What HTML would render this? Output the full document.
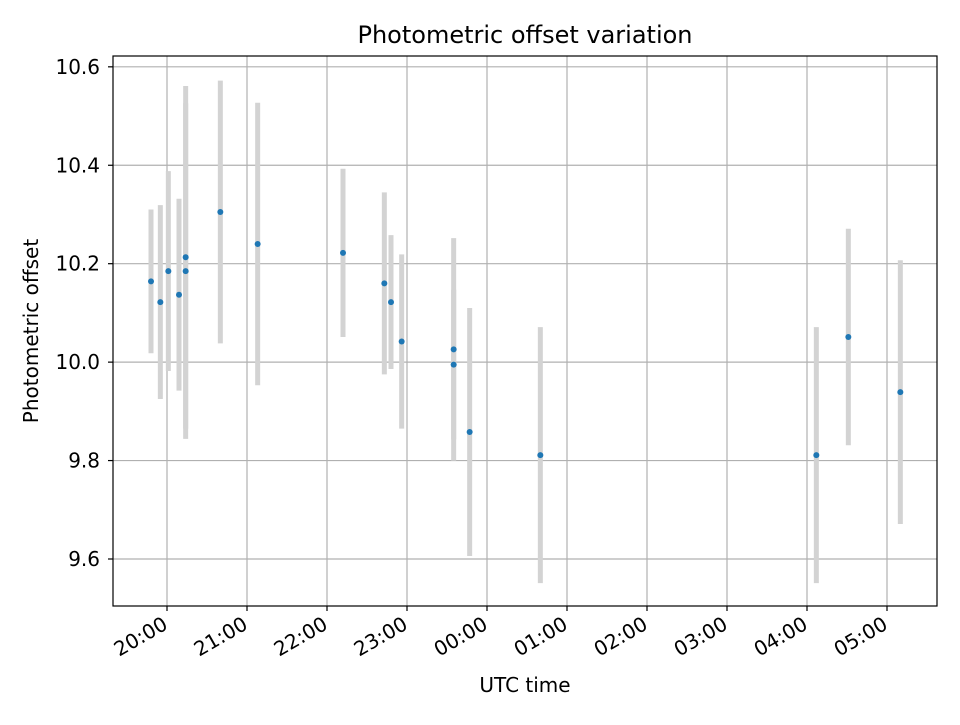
<!DOCTYPE html>
<html><head><meta charset="utf-8"><style>
body{margin:0;background:#fff;font-family:"Liberation Sans","DejaVu Sans",sans-serif}
svg text{font-family:"DejaVu Sans","Liberation Sans",sans-serif}
</style></head><body>
<svg id="chart" width="960" height="720" xmlns="http://www.w3.org/2000/svg">
<rect width="960" height="720" fill="#fff"/>
<g id="grid"></g><g id="marks"></g><g id="ticks"></g>
<rect x="113" y="56" width="824" height="550" fill="none" stroke="#000" stroke-width="1.2"/>
<text x="525" y="43" font-size="24" text-anchor="middle">Photometric offset variation</text>
<text x="525" y="692" font-size="20" text-anchor="middle">UTC time</text>
<text x="38" y="331" font-size="20" text-anchor="middle" transform="rotate(-90 38 331)">Photometric offset</text>
</svg>
<script>
const times=["19:48","19:55","20:01","20:09","20:14","20:14","20:40","21:08","22:12","22:43","22:48","22:56","23:35","23:35","23:47","00:40","04:07","04:31","05:10"];
const offsets=[10.164,10.122,10.185,10.137,10.213,10.185,10.305,10.240,10.222,10.160,10.122,10.042,9.995,10.026,9.858,9.811,9.811,10.051,9.939];
const errors=[0.146,0.197,0.203,0.195,0.348,0.341,0.267,0.287,0.171,0.185,0.136,0.177,0.152,0.226,0.252,0.26,0.26,0.22,0.268];
const xTickLabels=["20:00","21:00","22:00","23:00","00:00","01:00","02:00","03:00","04:00","05:00"];
const yTickLabels=["9.6","9.8","10.0","10.2","10.4","10.6"];
const NS="http://www.w3.org/2000/svg";
const X0=113,X1=937,Y0=56,Y1=606,xmin=-0.675,xmax=9.625,ymin=9.5045,ymax=10.622;
function hrs(t){let [h,m]=t.split(":").map(Number);let v=h+m/60-20;if(v<-6)v+=24;return v;}
function sx(v){return X0+(v-xmin)/(xmax-xmin)*(X1-X0);}
function sy(v){return Y1-(v-ymin)/(ymax-ymin)*(Y1-Y0);}
function mk(tag,at,parent){const e=document.createElementNS(NS,tag);for(const k in at)e.setAttribute(k,at[k]);document.getElementById(parent).appendChild(e);return e;}
xTickLabels.forEach(l=>{const x=sx(hrs(l));
const g=mk("line",{x1:x,x2:x,y1:Y0,y2:Y1,stroke:"#b0b0b0","stroke-width":1.2},"grid");


const t=mk("line",{x1:x,x2:x,y1:Y1,y2:Y1+5,stroke:"#000","stroke-width":1.2},"ticks");


const tx=mk("text",{x:x+2,y:Y1+22,"font-size":20,"text-anchor":"end",transform:`rotate(-30 ${x+2} ${Y1+22})`},"ticks");
tx.textContent=l;

});
yTickLabels.forEach(l=>{const y=sy(+l);
const g=mk("line",{x1:X0,x2:X1,y1:y,y2:y,stroke:"#b0b0b0","stroke-width":1.2},"grid");


const t=mk("line",{x1:X0-5,x2:X0,y1:y,y2:y,stroke:"#000","stroke-width":1.2},"ticks");


const tx=mk("text",{x:X0-13,y:y+7,"font-size":20,"text-anchor":"end"},"ticks");
tx.textContent=l;

});
times.forEach((t,i)=>{const x=sx(hrs(t));
const b=mk("line",{x1:x,x2:x,y1:sy(offsets[i]+errors[i]),y2:sy(offsets[i]-errors[i]),stroke:"#d3d3d3","stroke-width":5},"marks");

});
times.forEach((t,i)=>{const x=sx(hrs(t));
const c=mk("circle",{cx:x,cy:sy(offsets[i]),r:3,fill:"#1f77b4"},"marks");

});
</script>
</body></html>
